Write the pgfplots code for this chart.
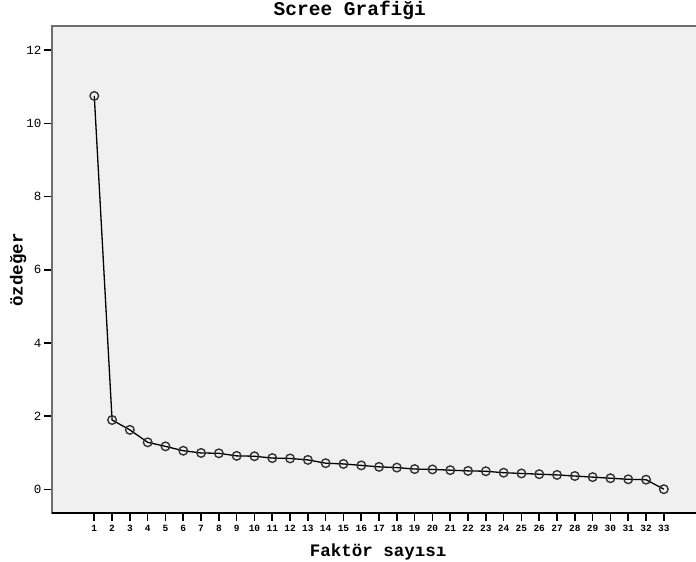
\documentclass[border=0pt]{standalone}
\usepackage{pgfplots}
\pgfplotsset{compat=1.18}
\usepackage{fontspec}
\setmainfont{Liberation Mono}
\definecolor{plotbg}{HTML}{F0F0F0}
\definecolor{frame}{HTML}{6E6E6E}
\definecolor{markc}{HTML}{333333}

\begin{document}
\begin{tikzpicture}[x=1pt,y=1pt]
	\path[use as bounding box] (0,0) rectangle (696,562);
	\begin{axis}[
	at={(52pt,49pt)},
	anchor=south west,
	scale only axis,
	width=646pt,
	height=487pt,
	xmin=-1.376,
	xmax=34.92,
	ymin=-0.64,
	ymax=12.66,
	axis background/.style={fill=plotbg},
	axis line style={draw=frame,line width=1.6pt},
	xtick={1,...,33},
	ytick={0,2,...,12},
	tick align=outside,
	xtick pos=bottom,
	ytick pos=left,
	major tick length=8pt,
	xtick style={draw=black,line width=1.6pt},
	ytick style={draw=black,line width=1.7pt},
	/pgf/number format/assume math mode=true,
	xticklabel style={font=\fontsize{9.5}{10}\selectfont\bfseries,yshift=-1pt},
	yticklabel style={font=\fontsize{12.5}{14}\selectfont,xshift=1pt},
	title={Scree Grafiği},
	title style={at={(rel axis cs:0.461,1)},anchor=base,yshift=4pt,
		font=\fontsize{19.5}{21}\selectfont\bfseries},
	xlabel={Faktör sayısı},
	every axis x label/.style={at={(axis description cs:0.505,-0.0903)},anchor=base,
		font=\fontsize{17.5}{19}\selectfont\bfseries},
	ylabel={özdeğer},
	every axis y label/.style={at={(axis description cs:-0.0526,0.499)},anchor=center,rotate=90,
		font=\fontsize{17.5}{19}\selectfont\bfseries},
	clip=false,
	]
	\draw[black,line width=1.4pt] (rel axis cs:0,0) -- (rel axis cs:1,0);
	\addplot [black,line width=1.3pt,mark=o,mark size=4.3pt,
		mark options={draw=markc,line width=1.4pt}] coordinates {
		(1,10.75) (2,1.90) (3,1.63) (4,1.29) (5,1.18) (6,1.06) (7,1.00) (8,0.99)
		(9,0.92) (10,0.91) (11,0.86) (12,0.85) (13,0.81) (14,0.72) (15,0.70)
		(16,0.66) (17,0.62) (18,0.60) (19,0.56) (20,0.55) (21,0.53) (22,0.51)
		(23,0.50) (24,0.46) (25,0.44) (26,0.42) (27,0.40) (28,0.37) (29,0.34)
		(30,0.31) (31,0.28) (32,0.27) (33,0.01)
	};
	\end{axis}
\end{tikzpicture}
\end{document}
